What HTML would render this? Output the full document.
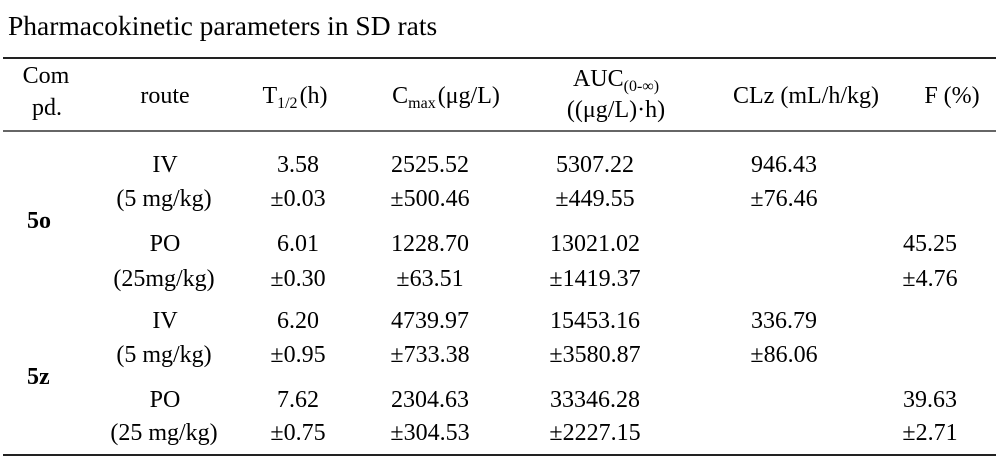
<!DOCTYPE html>
<html>
<head>
<meta charset="utf-8">
<style>
  html,body{margin:0;padding:0;background:#fff;}
  body{width:1000px;height:464px;position:relative;overflow:hidden;
       font-family:"Liberation Serif","Times New Roman",serif;color:#000;}
  .t{position:absolute;left:8px;top:12px;font-size:27.5px;line-height:27.5px;white-space:nowrap;}
  .c{position:absolute;width:240px;margin-left:-120px;text-align:center;font-size:24px;line-height:24px;white-space:nowrap;}
  .l{position:absolute;font-size:24px;line-height:24px;white-space:nowrap;font-weight:bold;}
  .sub{font-size:16px;position:relative;top:5px;}
  .hr{position:absolute;left:3px;width:993px;height:2px;background:#222;}
</style>
</head>
<body>
<div class="t">Pharmacokinetic parameters in SD rats</div>

<div class="hr" style="top:57px;"></div>
<div class="hr" style="top:130px;background:#666;"></div>
<div class="hr" style="top:454px;"></div>

<!-- header -->
<div class="c" style="left:46px;top:64px;">Com</div>
<div class="c" style="left:47px;top:96px;">pd.</div>
<div class="c" style="left:165px;top:84px;">route</div>
<div class="c" style="left:295px;top:84px;">T<span class="sub">1/2</span>&#8202;(h)</div>
<div class="c" style="left:446px;top:84px;">C<span class="sub">max</span>&#8202;(μg/L)</div>
<div class="c" style="left:616px;top:67px;">AUC<span class="sub">(0-∞)</span></div>
<div class="c" style="left:616px;top:98px;">((μg/L)·h)</div>
<div class="c" style="left:806px;top:84px;">CLz (mL/h/kg)</div>
<div class="c" style="left:952px;top:84px;">F (%)</div>

<!-- 5o -->
<div class="l" style="left:27px;top:209px;">5o</div>
<div class="c" style="left:165px;top:153px;">IV</div>
<div class="c" style="left:164px;top:187px;">(5 mg/kg)</div>
<div class="c" style="left:298px;top:153px;">3.58</div>
<div class="c" style="left:298px;top:187px;">±0.03</div>
<div class="c" style="left:430px;top:153px;">2525.52</div>
<div class="c" style="left:430px;top:187px;">±500.46</div>
<div class="c" style="left:595px;top:153px;">5307.22</div>
<div class="c" style="left:595px;top:187px;">±449.55</div>
<div class="c" style="left:784px;top:153px;">946.43</div>
<div class="c" style="left:784px;top:187px;">±76.46</div>

<div class="c" style="left:165px;top:232px;">PO</div>
<div class="c" style="left:164px;top:267px;">(25mg/kg)</div>
<div class="c" style="left:298px;top:232px;">6.01</div>
<div class="c" style="left:298px;top:267px;">±0.30</div>
<div class="c" style="left:430px;top:232px;">1228.70</div>
<div class="c" style="left:430px;top:267px;">±63.51</div>
<div class="c" style="left:595px;top:232px;">13021.02</div>
<div class="c" style="left:595px;top:267px;">±1419.37</div>
<div class="c" style="left:930px;top:232px;">45.25</div>
<div class="c" style="left:930px;top:267px;">±4.76</div>

<!-- 5z -->
<div class="l" style="left:27px;top:365px;">5z</div>
<div class="c" style="left:165px;top:309px;">IV</div>
<div class="c" style="left:164px;top:343px;">(5 mg/kg)</div>
<div class="c" style="left:298px;top:309px;">6.20</div>
<div class="c" style="left:298px;top:343px;">±0.95</div>
<div class="c" style="left:430px;top:309px;">4739.97</div>
<div class="c" style="left:430px;top:343px;">±733.38</div>
<div class="c" style="left:595px;top:309px;">15453.16</div>
<div class="c" style="left:595px;top:343px;">±3580.87</div>
<div class="c" style="left:784px;top:309px;">336.79</div>
<div class="c" style="left:784px;top:343px;">±86.06</div>

<div class="c" style="left:165px;top:388px;">PO</div>
<div class="c" style="left:164px;top:421px;">(25 mg/kg)</div>
<div class="c" style="left:298px;top:388px;">7.62</div>
<div class="c" style="left:298px;top:421px;">±0.75</div>
<div class="c" style="left:430px;top:388px;">2304.63</div>
<div class="c" style="left:430px;top:421px;">±304.53</div>
<div class="c" style="left:595px;top:388px;">33346.28</div>
<div class="c" style="left:595px;top:421px;">±2227.15</div>
<div class="c" style="left:930px;top:388px;">39.63</div>
<div class="c" style="left:930px;top:421px;">±2.71</div>
</body>
</html>
